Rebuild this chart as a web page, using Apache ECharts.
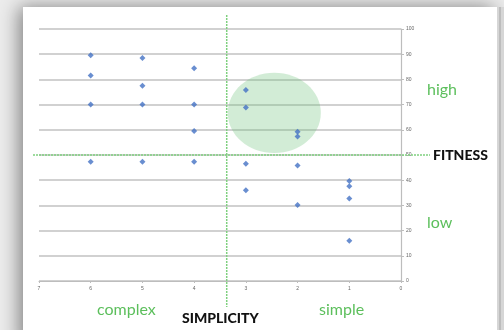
<!DOCTYPE html>
<html>
<head>
<meta charset="utf-8">
<script src="https://cdn.jsdelivr.net/npm/echarts@6/dist/echarts.min.js"></script>
<style>
html,body{margin:0;padding:0;background:#ececec;}
#c{width:504px;height:330px;}
</style>
</head>
<body>
<div id="c"></div>
<script>
// Data
const simplicity = [6,6,6,6, 5,5,5,5, 4,4,4,4, 3,3,3,3, 2,2,2,2, 1,1,1,1];
const fitness = [89.6,81.5,70,47.3, 88.5,77.5,70,47.3, 84.4,70,59.5,47.3, 75.8,68.8,46.5,36, 59.2,57.3,45.8,30.2, 39.7,37.6,32.7,16];
const xTicks = [0,1,2,3,4,5,6,7];
const yTicks = [0,10,20,30,40,50,60,70,80,90,100];
const splitX = 3.37;   // vertical divider (simplicity)
const splitY = 50;     // horizontal divider (fitness)
const highlightCenter = [2.45, 66.7];
const highlightRadius = [0.9, 15.9];

const green = '#5cbf5c';
const chart = echarts.init(document.getElementById('c'));
const pts = simplicity.map((x,i)=>[x, fitness[i]]);

chart.setOption({
  backgroundColor: '#ececec',
  animation: false,
  grid: {left: 39, right: 103, top: 29, bottom: 49},
  xAxis: {
    type: 'value', min: xTicks[0], max: xTicks[xTicks.length-1], interval: 1, inverse: true,
    axisLine: {show: true, lineStyle: {color: '#bdbdbd', width: 1.2}},
    axisTick: {show: true, length: 2, lineStyle: {color: '#bdbdbd'}},
    axisLabel: {fontSize: 5, color: '#666', margin: 5},
    splitLine: {show: false}
  },
  yAxis: {
    type: 'value', min: yTicks[0], max: yTicks[yTicks.length-1], interval: 10, position: 'right',
    axisLine: {show: true, onZero: false, lineStyle: {color: '#bdbdbd', width: 1.2}},
    axisTick: {show: true, length: 3, lineStyle: {color: '#bdbdbd'}},
    axisLabel: {fontSize: 5, color: '#666', margin: 5},
    splitLine: {show: true, lineStyle: {color: '#c2c2c2', width: 1.5}}
  },
  series: [{
    type: 'scatter', data: pts, symbol: 'diamond', symbolSize: 6,
    itemStyle: {color: '#4472c4'}, z: 5
  }]
});

function px(p){ return chart.convertToPixel({gridIndex:0}, p); }
const c = px(highlightCenter);
const rxP = Math.abs(px([highlightCenter[0]-highlightRadius[0], highlightCenter[1]])[0]-c[0]);
const ryP = Math.abs(px([highlightCenter[0], highlightCenter[1]+highlightRadius[1]])[1]-c[1]);
const vx = px([splitX, 0])[0];
const hy = px([0, splitY])[1];
const top100 = px([0,100])[1];
const bot0 = px([0,0])[1];

chart.setOption({
  graphic: [
    {type:'rect', z:-10, silent:true, shape:{x:23,y:7,width:474,height:340},
      style:{fill:'#fff', shadowBlur:18, shadowColor:'rgba(0,0,0,0.45)', shadowOffsetX:-4, shadowOffsetY:0}},
    {type:'rect', z:-9, silent:true, shape:{x:497,y:7,width:7,height:330}, style:{fill:'#d6d6d6'}},
    {type:'rect', z:-9, silent:true, shape:{x:499,y:7,width:2,height:330}, style:{fill:'#bdbdbd'}},
    {type:'ellipse', z:1, silent:true, shape:{cx:c[0], cy:c[1], rx:rxP, ry:ryP},
      style:{fill:'rgba(105,192,118,0.3)'}},
    {type:'line', z:3, silent:true, shape:{x1:vx, y1:top100-14, x2:vx, y2:bot0+26},
      style:{stroke:'#7fd07f', lineWidth:1.5, lineDash:[2,1]}},
    {type:'line', z:3, silent:true, shape:{x1:33, y1:hy, x2:430, y2:hy},
      style:{stroke:'#7fd07f', lineWidth:1.5, lineDash:[2,1]}},
    {type:'text', z:6, style:{text:'high', x:427, y:90, fill:green, font:'16px Lato', textVerticalAlign:'middle'}},
    {type:'text', z:6, style:{text:'low', x:427, y:223, fill:green, font:'16px Lato', textVerticalAlign:'middle'}},
    {type:'text', z:6, style:{text:'FITNESS', x:433, y:155, fill:'#111', font:'900 14px Lato', textVerticalAlign:'middle'}},
    {type:'text', z:6, style:{text:'complex', x:97, y:310, fill:green, font:'16px Lato', textVerticalAlign:'middle'}},
    {type:'text', z:6, style:{text:'simple', x:319, y:310, fill:green, font:'16px Lato', textVerticalAlign:'middle'}},
    {type:'text', z:6, style:{text:'SIMPLICITY', x:182, y:318, fill:'#111', font:'900 14px Lato', textVerticalAlign:'middle'}}
  ]
});
</script>
</body>
</html>
